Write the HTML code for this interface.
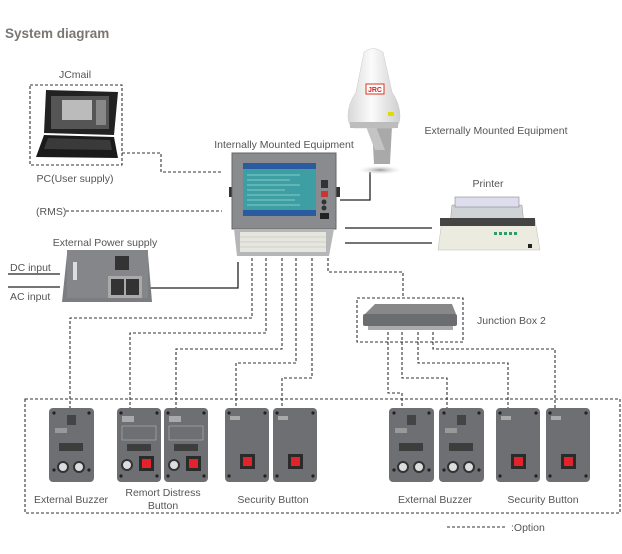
<!DOCTYPE html>
<html><head><meta charset="utf-8"><style>
html,body{margin:0;padding:0;background:#fff;}
svg{display:block;font-family:"Liberation Sans",sans-serif;}
</style></head><body>
<svg width="622" height="554" viewBox="0 0 622 554" xmlns="http://www.w3.org/2000/svg">
<defs>
<linearGradient id="dome" x1="0" x2="1"><stop offset="0" stop-color="#d8d8d8"/><stop offset=".45" stop-color="#fbfbfb"/><stop offset="1" stop-color="#cfcfcf"/></linearGradient>
<radialGradient id="shadow"><stop offset="0" stop-color="#999"/><stop offset="1" stop-color="#fff" stop-opacity="0"/></radialGradient>
<g id="screw"><circle r="1.6" fill="#222"/></g>
<g id="buzzer">
 <rect x="0" y="0" width="45" height="74" rx="4" fill="#6e6f72"/>
 <rect x="18" y="7" width="9" height="10" fill="#444"/>
 <rect x="6" y="20" width="12" height="5" fill="#999"/>
 <rect x="10" y="35" width="24" height="8" fill="#3d3d3d"/>
 <circle cx="14" cy="59" r="5" fill="#ddd" stroke="#333" stroke-width="2"/>
 <circle cx="30" cy="59" r="5" fill="#ddd" stroke="#333" stroke-width="2"/>
 <use href="#screw" x="5" y="5"/><use href="#screw" x="40" y="5"/><use href="#screw" x="5" y="62"/><use href="#screw" x="40" y="62"/>
</g>
<g id="remote">
 <rect x="0" y="0" width="44" height="74" rx="4" fill="#6e6f72"/>
 <rect x="5" y="8" width="12" height="6" fill="#aaa"/>
 <rect x="5" y="18" width="34" height="14" fill="none" stroke="#aaa" stroke-width=".7"/>
 <rect x="10" y="36" width="24" height="7" fill="#3d3d3d"/>
 <circle cx="10" cy="57" r="5" fill="#ddd" stroke="#333" stroke-width="2"/>
 <rect x="22" y="48" width="15" height="15" fill="#2a2a2a"/><rect x="25" y="51" width="9" height="9" fill="#e3232b"/>
 <use href="#screw" x="4" y="5"/><use href="#screw" x="40" y="5"/><use href="#screw" x="4" y="68"/><use href="#screw" x="40" y="68"/>
</g>
<g id="sec">
 <rect x="0" y="0" width="44" height="74" rx="4" fill="#6e6f72"/>
 <rect x="5" y="8" width="10" height="4" fill="#aaa"/>
 <rect x="15" y="46" width="15" height="15" fill="#2a2a2a"/><rect x="18" y="49" width="9" height="9" fill="#e3232b"/>
 <use href="#screw" x="4" y="5"/><use href="#screw" x="40" y="5"/><use href="#screw" x="4" y="68"/><use href="#screw" x="40" y="68"/>
</g>
</defs>

<text x="5" y="38" font-size="13.5" font-weight="bold" fill="#7a7672">System diagram</text>

<g font-size="10.5" fill="#555">
<text x="75" y="78" text-anchor="middle">JCmail</text>
<text x="75" y="182" text-anchor="middle">PC(User supply)</text>
<text x="284" y="148" text-anchor="middle">Internally Mounted Equipment</text>
<text x="496" y="134" text-anchor="middle">Externally Mounted Equipment</text>
<text x="488" y="187" text-anchor="middle">Printer</text>
<text x="36" y="215">(RMS)</text>
<text x="105" y="246" text-anchor="middle">External Power supply</text>
<text x="10" y="271">DC input</text>
<text x="10" y="300">AC input</text>
<text x="477" y="324">Junction Box 2</text>
<text x="71" y="503" text-anchor="middle">External Buzzer</text>
<text x="163" y="496" text-anchor="middle">Remort Distress</text>
<text x="163" y="509" text-anchor="middle">Button</text>
<text x="273" y="503" text-anchor="middle">Security Button</text>
<text x="435" y="503" text-anchor="middle">External Buzzer</text>
<text x="543" y="503" text-anchor="middle">Security Button</text>
<text x="511" y="531">:Option</text>
</g>

<g stroke="#222" stroke-width="1.3" fill="none">
<path d="M8 274H60M8 287H60"/>
<path d="M148 288H238V262"/>
<path d="M370 172V200H340"/>
<path d="M345 228H432M345 243H432"/>
</g>

<g stroke="#333" stroke-width="1.1" fill="none" stroke-dasharray="3,2">
<rect x="30" y="85" width="92" height="80"/>
<path d="M122 153H161V172H222"/>
<path d="M66 211H222"/>
<path d="M252 258V318H70V408"/>
<path d="M266 258V333H130V408"/>
<path d="M282 258V349H176V408"/>
<path d="M296 258V363H236V408"/>
<path d="M312 258V378H282V408"/>
<path d="M328 258V272H403V298"/>
<rect x="357" y="298" width="106" height="44"/>
<path d="M388 332V393H402V408"/>
<path d="M402 332V378H447V408"/>
<path d="M418 332V363H508V408"/>
<path d="M433 332V349H555V408"/>
<rect x="25" y="399" width="595" height="114"/>
<path d="M447 527H505"/>
</g>

<!-- laptop -->
<g>
<polygon points="46,90 118,92 114,135 44,133" fill="#222"/>
<rect x="51" y="96" width="58" height="33" fill="#555"/>
<rect x="62" y="100" width="30" height="20" fill="#bbb"/>
<rect x="96" y="100" width="10" height="25" fill="#888"/>
<polygon points="44,135 114,137 118,158 36,157" fill="#1a1a1a"/>
<polygon points="48,138 110,140 112,150 44,149" fill="#3a3a3a"/>
</g>

<!-- antenna -->
<ellipse cx="380" cy="170" rx="24" ry="5" fill="url(#shadow)"/>
<polygon points="372,126 392,126 390,164 374,164" fill="#a9a9a9"/>
<polygon points="365,124 375,124 385,150 375,150" fill="#c4c4c4"/>
<path d="M364 52 Q373 45 383 52 L392 92 Q400 104 400 116 Q400 126 394 128 L354 128 Q348 126 348 116 Q348 104 356 92 Z" fill="url(#dome)" stroke="#ccc" stroke-width=".5"/>
<rect x="350" y="122" width="48" height="6" fill="#bdbdbd"/>
<rect x="366" y="84" width="18" height="10" fill="#fff" stroke="#d32" stroke-width="1"/>
<text x="375" y="92" font-size="7" font-weight="bold" fill="#d22" text-anchor="middle">JRC</text>
<rect x="388" y="112" width="6" height="4" fill="#dd0"/>

<!-- monitor -->
<rect x="229" y="187" width="4" height="10" fill="#333"/>
<rect x="336" y="187" width="4" height="10" fill="#333"/>
<rect x="232" y="153" width="104" height="76" fill="#8a8b8e" stroke="#666"/>
<rect x="243" y="163" width="73" height="53" fill="#3d9ea3"/>
<rect x="243" y="163" width="73" height="6" fill="#2a5aa0"/>
<rect x="243" y="210" width="73" height="6" fill="#2a5aa0"/>
<g stroke="#cfe" stroke-width=".5">
<path d="M247 175H300M247 180H290M247 185H300M247 190H285M247 195H300M247 200H295M247 205H300"/>
</g>
<rect x="321" y="180" width="7" height="8" fill="#333"/>
<rect x="321" y="191" width="7" height="6" fill="#c33"/>
<circle cx="324" cy="202" r="2.5" fill="#333"/><circle cx="324" cy="208" r="2.5" fill="#333"/>
<rect x="320" y="213" width="9" height="6" fill="#222"/>
<polygon points="234,229 334,229 329,256 237,256" fill="#b5b6b8"/>
<rect x="240" y="232" width="86" height="20" fill="#e6e6df"/>
<g stroke="#bbb" stroke-width=".5"><path d="M240 237H326M240 242H326M240 247H326"/></g>

<!-- printer -->
<polygon points="452,205 522,205 524,225 450,225" fill="#cfd3d6" stroke="#999" stroke-width=".5"/>
<rect x="455" y="197" width="64" height="10" fill="#dde" stroke="#777" stroke-width=".5"/>
<polygon points="442,220 535,220 540,250 438,250" fill="#ecebe0" stroke="#bbb" stroke-width=".5"/>
<rect x="440" y="218" width="95" height="8" fill="#444"/>
<g fill="#2a9d6a"><rect x="494" y="232" width="3" height="3"/><rect x="499" y="232" width="3" height="3"/><rect x="504" y="232" width="3" height="3"/><rect x="509" y="232" width="3" height="3"/><rect x="514" y="232" width="3" height="3"/></g>
<rect x="528" y="244" width="4" height="4" fill="#222"/>

<!-- power supply -->
<polygon points="62,302 67,254 148,254 152,302" fill="#7c7d80"/>
<rect x="67" y="250" width="81" height="48" fill="#85868a"/>
<rect x="73" y="262" width="4" height="18" fill="#ddd"/>
<rect x="115" y="256" width="14" height="14" fill="#333"/>
<rect x="108" y="276" width="34" height="22" fill="#aaa"/>
<rect x="111" y="279" width="13" height="16" fill="#333"/><rect x="126" y="279" width="13" height="16" fill="#333"/>

<!-- junction box -->
<polygon points="365,314 375,304 452,304 456,314" fill="#888"/>
<rect x="363" y="314" width="94" height="12" rx="2" fill="#6c6d70"/>
<rect x="368" y="326" width="85" height="4" fill="#aaa"/>

<use href="#buzzer" x="49" y="408"/>
<use href="#remote" x="117" y="408"/>
<use href="#remote" x="164" y="408"/>
<use href="#sec" x="225" y="408"/>
<use href="#sec" x="273" y="408"/>
<use href="#buzzer" x="389" y="408"/>
<use href="#buzzer" x="439" y="408"/>
<use href="#sec" x="496" y="408"/>
<use href="#sec" x="546" y="408"/>
</svg>
</body></html>
